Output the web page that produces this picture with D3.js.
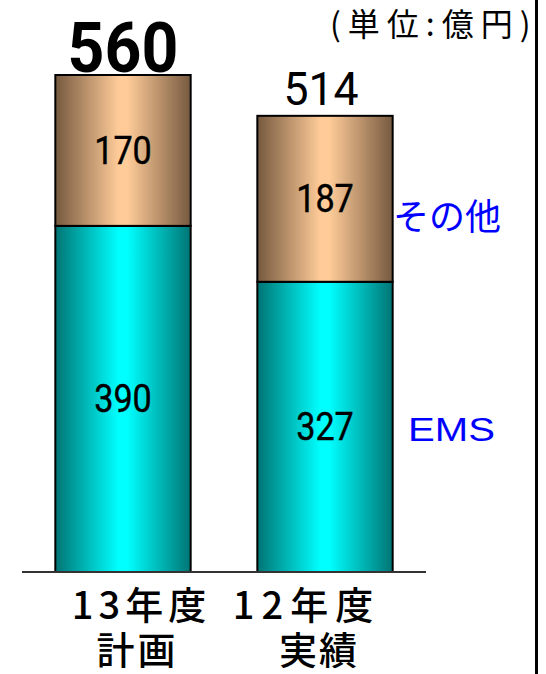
<!DOCTYPE html>
<html>
<head>
<meta charset="utf-8">
<script src="https://cdn.jsdelivr.net/npm/d3@7"></script>
<style>
  html, body { margin: 0; padding: 0; background: #fff; }
  svg { display: block; }
</style>
</head>
<body>
<svg id="chart" width="546" height="674"></svg>
<script>
// Sales breakdown (units: 100 million yen)
const yearLabels = ["13年度", "12年度"];
const planLabels = ["計画", "実績"];
const seriesNames = ["EMS", "その他"];
const emsValues = [390, 327];
const otherValues = [170, 187];
const unitLabel = "(単位:億円)";

const W = 546, H = 674;
const svg = d3.select("#chart");

const rows = yearLabels.map((k, i) => ({ key: k, "EMS": emsValues[i], "その他": otherValues[i] }));
const layers = d3.stack().keys(seriesNames)(rows);
const totals = rows.map(r => r["EMS"] + r["その他"]);

const x = d3.scaleBand()
  .domain(yearLabels)
  .range([22, 426])
  .paddingInner(0.33)
  .paddingOuter(0.165);

const y = d3.scaleLinear()
  .domain([0, d3.max(totals)])
  .range([572, 75]);

// cylinder-like horizontal shading for each series
const shades = {
  "EMS":   { edge: "#007474", mid: "#00ffff" },
  "その他": { edge: "#76593f", mid: "#ffcc99" }
};
const defs = svg.append("defs");
seriesNames.forEach((s, i) => {
  const g = defs.append("linearGradient")
    .attr("id", "shade" + i)
    .attr("x1", 0).attr("x2", 1).attr("y1", 0).attr("y2", 0);
  g.append("stop").attr("offset", "0%").attr("stop-color", shades[s].edge);
  g.append("stop").attr("offset", "47%").attr("stop-color", shades[s].mid);
  g.append("stop").attr("offset", "53%").attr("stop-color", shades[s].mid);
  g.append("stop").attr("offset", "100%").attr("stop-color", shades[s].edge);
});

// right frame line
svg.append("line")
  .attr("x1", 536.5).attr("x2", 536.5)
  .attr("y1", 0).attr("y2", H)
  .attr("stroke", "#000").attr("stroke-width", 3);

// stacked bars
const layerG = svg.selectAll("g.layer")
  .data(layers)
  .join("g")
  .attr("class", "layer")
  .attr("fill", (d, i) => `url(#shade${i})`);

layerG.selectAll("rect")
  .data(d => d)
  .join("rect")
  .attr("x", d => x(d.data.key))
  .attr("y", d => y(d[1]))
  .attr("width", x.bandwidth())
  .attr("height", d => y(d[0]) - y(d[1]))
  .attr("stroke", "#000")
  .attr("stroke-width", 2);

// baseline
svg.append("line")
  .attr("x1", x.range()[0]).attr("x2", x.range()[1])
  .attr("y1", y(0)).attr("y2", y(0))
  .attr("stroke", "#333").attr("stroke-width", 2);

// segment values
layers.forEach(layer => {
  layer.forEach(d => {
    const cx = x(d.data.key) + x.bandwidth() / 2;
    const cy = (y(d[0]) + y(d[1])) / 2 + 13.5;
    svg.append("text")
      .attr("transform", `translate(${cx},${cy}) scale(0.9,1)`)
      .attr("text-anchor", "middle")
      .attr("font-family", "Roboto, 'Liberation Sans', sans-serif")
      .attr("font-size", 38)
      .attr("fill", "#000")
      .attr("stroke", "#000")
      .attr("stroke-width", 0.4)
      .text(d[1] - d[0]);
  });
});

// totals above bars
const totalStyles = [
  { size: 70, weight: 700, sx: 0.92, gap: 3, dx: 0 },
  { size: 46, weight: 400, sx: 0.97, gap: 11, dx: -4 }
];
totals.forEach((t, i) => {
  const st = totalStyles[i];
  const cx = x(yearLabels[i]) + x.bandwidth() / 2 + st.dx;
  svg.append("text")
    .attr("transform", `translate(${cx},${y(t) - st.gap}) scale(${st.sx},1)`)
    .attr("text-anchor", "middle")
    .attr("font-family", "Roboto, 'Liberation Sans', sans-serif")
    .attr("font-size", st.size)
    .attr("font-weight", st.weight)
    .attr("fill", "#000")
    .text(t);
});

// series names beside the last bar
const lastLayer = layers.map(l => l[l.length - 1]);
const nameStyles = [
  { font: "'Liberation Sans', Arial, sans-serif", size: 34, sx: 1.18, dy: 14.5, x: 408 },
  { font: "'Noto Sans CJK JP', sans-serif", size: 36, sx: 1, dy: 31.5, x: 393 }
];
seriesNames.forEach((s, i) => {
  const d = lastLayer[i];
  const st = nameStyles[i];
  const cy = (y(d[0]) + y(d[1])) / 2 + st.dy;
  svg.append("text")
    .attr("transform", `translate(${st.x},${cy}) scale(${st.sx},1)`)
    .attr("font-family", st.font)
    .attr("font-size", st.size)
    .attr("fill", "#0000ff")
    .text(s);
});

// unit
svg.append("text")
  .attr("x", 330).attr("y", 36)
  .attr("font-family", "'Noto Sans CJK JP', sans-serif")
  .attr("font-size", 32)
  .attr("letter-spacing", 7)
  .attr("fill", "#000")
  .text(unitLabel);

// category labels (two lines)
const catNudge = [[16, 13], [-22, -7]];
const catSpacing = [[5, 3], [7, 2]];
yearLabels.forEach((k, i) => {
  const cx = x(k) + x.bandwidth() / 2;
  [yearLabels[i], planLabels[i]].forEach((txt, j) => {
    const ls = catSpacing[i][j];
    svg.append("text")
      .attr("x", cx + catNudge[i][j] + ls / 2)
      .attr("y", j === 0 ? 619 : 664)
      .attr("text-anchor", "middle")
      .attr("font-family", "'Noto Sans CJK JP', sans-serif")
      .attr("font-size", 38)
      .attr("font-weight", 500)
      .attr("letter-spacing", ls)
      .attr("fill", "#000")
      .text(txt);
  });
});
</script>
</body>
</html>
